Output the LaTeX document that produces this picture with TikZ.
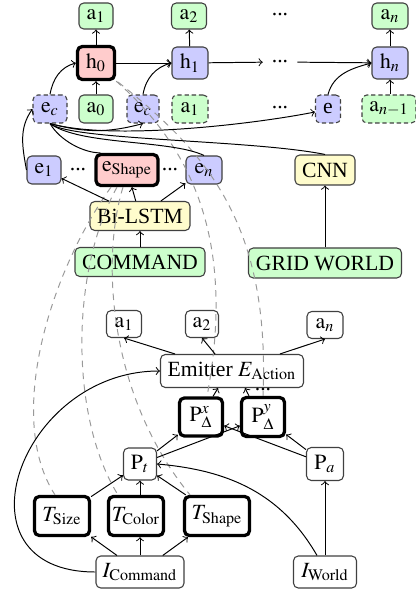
\documentclass[tikz,border=0pt]{standalone}
\usepackage{mathptmx}
\usepackage[no-math]{fontspec}
\setmainfont{Liberation Serif}
\usetikzlibrary{calc}
\begin{document}
\begin{tikzpicture}[x=0.4608pt,y=-0.4608pt,
  bx/.style={draw=black!75, rounded corners=2.2pt, inner sep=1pt, line width=0.5pt},
  thk/.style={line width=1.5pt, draw=black},
  gn/.style={bx, fill=green!20}, bl/.style={bx, fill=blue!20},
  rd/.style={bx, fill=red!20}, yl/.style={bx, fill=yellow!20},
  wt/.style={bx, fill=white},
  dsh/.style={dash pattern=on 2pt off 1.3pt},
  sz/.style 2 args={minimum width=#1*0.4608pt, minimum height=#2*0.4608pt},
  arr/.style={->, black, line width=0.45pt},
  ln/.style={black, line width=0.45pt},
  corr/.style={draw=black!40, dash pattern=on 3pt off 2.5pt, line width=0.45pt},
  dts/.style={inner sep=4pt}]
\useasboundingbox (0,0) rectangle (415,592);
% ---- top: decoder ----
\node[gn, sz={34}{26}] (a1t) at (96,16) {$\mathrm{a}_1$};
\node[rd, thk, sz={37}{33}] (h0) at (96,63) {$\mathrm{h}_0$};
\node[gn, sz={34}{28}] (a0) at (96,109) {$\mathrm{a}_0$};
\node[bl, dsh, sz={34}{28}] (ec1) at (50,109) {$\mathrm{e}_c$};
\node[gn, sz={35}{26}] (a2t) at (189,16) {$\mathrm{a}_2$};
\node[bl, sz={36}{32}] (h1) at (190,63) {$\mathrm{h}_1$};
\node[bl, dsh, sz={32}{28}] (ec2) at (143,109) {$\mathrm{e}_c$};
\node[gn, dsh, sz={36}{28}] (a1b) at (190,109) {$\mathrm{a}_1$};
\node[dts] (dt) at (280,15) {...};
\node[dts] (dm) at (280,62) {...};
\node[dts] (db) at (280,108) {...};
\node[gn, sz={36}{26}] (ant) at (390,16) {$\mathrm{a}_n$};
\node[bl, sz={36}{32}] (hn) at (390,63) {$\mathrm{h}_n$};
\node[bl, dsh, sz={25}{28}] (e) at (328,109) {e};
\node[gn, dsh, sz={54}{28}] (an1) at (389,109) {$\mathrm{a}_{n-1}$};
% ---- encoder ----
\node[bl, sz={34}{28}] (e1) at (44,170) {$\mathrm{e}_1$};
\node[dts] (d1) at (78,170) {...};
\node[rd, thk, sz={62}{31}] (eS) at (127,170) {$\mathrm{e}_{\mathrm{Shape}}$};
\node[dts] (d2) at (170,170) {...};
\node[bl, sz={36}{28}] (en) at (204,170) {$\mathrm{e}_n$};
\node[yl, sz={60}{30}] (CNN) at (325,170) {CNN};
\node[yl, sz={100}{29}] (BL) at (140,216) {Bi-LSTM};
\node[gn, sz={130}{29}] (CMD) at (140,262) {COMMAND};
\node[gn, sz={153}{30}] (GW) at (325,263) {GRID WORLD};
% ---- program ----
\node[wt, sz={35}{27}] (ba1) at (124,324) {$\mathrm{a}_1$};
\node[wt, sz={33}{27}] (ba2) at (202,324) {$\mathrm{a}_2$};
\node[wt, sz={36}{27}] (ban) at (325,325) {$\mathrm{a}_n$};
\node[wt, sz={143}{33}] (Em) at (232,371) {Emitter $E_{\mathrm{Action}}$};
\node[anchor=base, inner sep=0pt] (dE) at (263,390) {...};
\node[wt, thk, sz={43}{38}] (Px) at (201,417) {$\mathrm{P}^{x}_{\Delta}$};
\node[wt, thk, sz={43}{39}] (Py) at (263,417) {$\mathrm{P}^{y}_{\Delta}$};
\node[wt, sz={33}{32}] (Pt) at (140,464) {$\mathrm{P}_t$};
\node[wt, sz={37}{33}] (Pa) at (325,464) {$\mathrm{P}_a$};
\node[wt, thk, sz={55}{39}] (TSize) at (62,516) {$T_{\mathrm{Size}}$};
\node[wt, thk, sz={55}{39}] (TColor) at (136,516) {$T_{\mathrm{Color}}$};
\node[wt, thk, sz={65}{39}] (TShape) at (217,516) {$T_{\mathrm{Shape}}$};
\node[wt, sz={88}{32}] (IC) at (140,572) {$I_{\mathrm{Command}}$};
\node[wt, sz={63}{32}] (IW) at (325,572) {$I_{\mathrm{World}}$};
% ---- dashed correspondences ----
\draw[corr] ($(eS.south)+(-16,0)$) .. controls +(-61,85) and +(-50,-77) .. ($(TSize.north)+(-7,0)$);
\draw[corr] ($(eS.south)+(-10,0)$) .. controls +(-47,85) and +(-48,-77) .. ($(TColor.north)+(-18,0)$);
\draw[corr] ($(eS.south)+(-4,0)$) .. controls +(-23,75) and +(-80,-97) .. ($(TShape.north)+(-27,0)$);
\draw[corr] (h0.south east) .. controls +(80,70) and +(28,-150) .. ($(Px.north)+(6,0)$);
\draw[corr] ($(h0.south east)+(2,1)$) .. controls +(91,72) and +(7,-170) .. (Py.north);
% ---- decoder connectors ----
\draw[arr] (a0) -- (h0);
\draw[arr] (h0) -- (a1t);
\draw[arr] (h0) -- (h1);
\draw[arr] (h1) -- (a2t);
\draw[arr] (h1) -- (dm);
\draw[arr] (dm) -- (hn);
\draw[arr] (hn) -- (ant);
\draw[arr] (an1.north -| hn) -- (hn.south);
\draw[arr] (ec1.north) to[out=80,in=195] (h0.west);
\draw[arr] (ec2.north) to[out=80,in=195] (h1.west);
\draw[arr] (e.north) to[out=75,in=195] (hn.west);
% ---- e_c fan ----
\draw[arr] (e1.west) to[out=100,in=235] (ec1.west);
\draw[arr] (ec1.south) to[bend right=15] (ec2.south);
\draw[arr] (ec1.south) .. controls +(60,17) and +(-66,13) .. ($(e.west)+(0,3)$);
\draw[ln] (ec1.south) .. controls +(10,17) and +(-17,0) .. ($(eS.north west)+(6,0)$);
\draw[ln] (ec1.south) .. controls +(30,22) and +(-34,-16) .. (en.north);
\draw[ln] (ec1.south) .. controls +(20,17) and +(-75,-15) .. (CNN.north);
% ---- encoder connectors ----
\draw[arr] (BL) -- (e1);
\draw[arr] (BL) -- (eS);
\draw[arr] (BL) -- (en);
\draw[arr] (CMD) -- (BL);
\draw[arr] (GW) -- (CNN);
% ---- program connectors ----
\draw[arr] ($(Em.north)+(-57,0)$) -- (ba1.south);
\draw[arr] ($(Em.north)+(-17,0)$) -- (ba2.south);
\draw[arr] ($(Em.north)+(48,0)$) -- (ban.south);
\draw[arr] ($(Px.north)+(12,0)$) -- ($(Em.south)+(-14,0)$);
\draw[arr] ($(Py.north)+(-14,0)$) -- ($(Em.south)+(13,0)$);
\draw[arr] (Pt) -- (Px);
\draw[arr] (Pt) -- (Py);
\draw[arr] (Pa) -- (Px);
\draw[arr] (Pa) -- (Py);
\draw[arr] (TSize) -- (Pt);
\draw[arr] (TColor.north -| Pt.south) -- (Pt.south);
\draw[arr] (TShape) -- (Pt);
\draw[arr] (IC) -- (TSize);
\draw[arr] (IC.north) -- (IC.north |- TColor.south);
\draw[arr] (IC) -- (TShape);
\draw[arr] (IW) -- (Pa);
\draw[arr] ($(IW.north)+(-8,0)$) to[out=120,in=-5] (Pt.east);
\draw[arr] (IC.west) .. controls +(-146,0) and +(-141,0) .. (Em.west);
\end{tikzpicture}
\end{document}
